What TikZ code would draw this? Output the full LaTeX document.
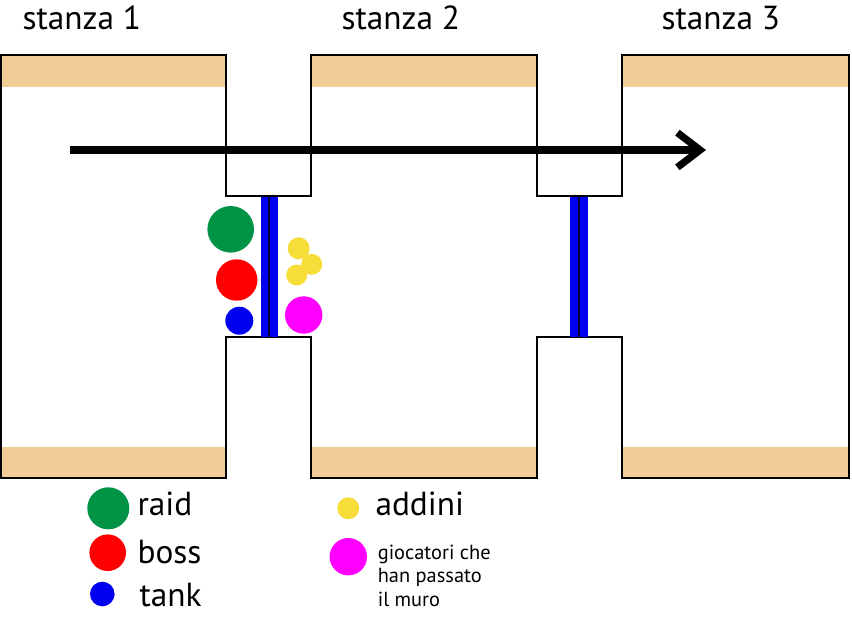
\documentclass[tikz,border=0pt]{standalone}
\usepackage{fontspec}
\setmainfont{PT Sans}
\usetikzlibrary{arrows.meta}

\definecolor{sabbia}{RGB}{240,204,151}
\definecolor{verde}{RGB}{0,146,69}
\definecolor{giallo}{RGB}{246,221,56}
\definecolor{rosso}{RGB}{255,0,0}
\definecolor{bluscuro}{RGB}{0,0,240}
\definecolor{fucsia}{RGB}{255,0,255}

\tikzset{every picture/.style={line width=0.75pt}}
\tikzset{
  titolo/.style={anchor=base west, inner sep=0pt, font=\fontsize{25}{30}\selectfont},
  voce/.style={anchor=base west, inner sep=0pt, font=\fontsize{25}{30}\selectfont},
  nota/.style={anchor=north west, inner sep=0pt, align=left, font=\fontsize{15.3}{17.6}\selectfont},
  banda/.style={fill=sabbia, draw=none},
  pareti/.style={draw=black, line width=0.8pt},
}

\begin{document}
\begin{tikzpicture}[x=0.75pt,y=0.75pt,yscale=-1,xscale=1]
\useasboundingbox (0,0) rectangle (852,622);

%Shape: Rectangle [bande stanze]
\fill[banda] (1,55) rectangle (226,87);
\fill[banda] (311,55) rectangle (537,87);
\fill[banda] (622,55) rectangle (849,87);
\fill[banda] (1,447) rectangle (226,478);
\fill[banda] (311,447) rectangle (537,478);
\fill[banda] (622,447) rectangle (849,478);

%Shape: Polygon [pianta]
\draw[pareti] (1,55) -- (226,55) -- (226,196) -- (311,196) -- (311,55) -- (537,55) -- (537,196) -- (622,196) -- (622,55) -- (849,55) -- (849,478) -- (622,478) -- (622,337) -- (537,337) -- (537,478) -- (311,478) -- (311,337) -- (226,337) -- (226,478) -- (1,478) -- cycle ;

%Shape: Rectangle [muro 1]
\fill[bluscuro] (261,197) rectangle (278,337);
\draw[black!80!blue, line width=1pt] (269,197) -- (269,337);
%Shape: Rectangle [muro 2]
\fill[bluscuro] (570,197) rectangle (588,337);
\draw[black!80!blue, line width=1pt] (579,197) -- (579,337);

%Shape: Circle [gruppo]
\fill[verde] (230.7,229.3) circle (23.3);
\fill[rosso] (236.7,280) circle (20.7);
\fill[bluscuro] (239.3,320.7) circle (14);
\fill[giallo] (298.7,248.3) circle (11);
\fill[giallo] (311.7,264.3) circle (10.5);
\fill[giallo] (296.7,275) circle (10.5);
\fill[fucsia] (303.7,315) circle (18.7);

%Straight Lines [percorso]
\coordinate (inizio) at (70,150);
\coordinate (fine) at (706,150);
\draw[line width=5.4pt, -{Straight Barb[length=17pt, width=26pt]}] (inizio) -- (fine);

% Text Node
\node[titolo] (s1) at (22,29) {stanza 1};
% Text Node
\node[titolo] (s2) at (341,29) {stanza 2};
% Text Node
\node[titolo] (s3) at (661,29) {stanza 3};

%Shape: Circle [legenda]
\fill[verde] (108.3,508.3) circle (21);
\fill[rosso] (107.7,552.7) circle (18.3);
\fill[bluscuro] (102.3,594) circle (12.3);
\fill[giallo] (348.3,508.3) circle (11);
\fill[fucsia] (348.3,556.7) circle (18.7);

% Text Node
\node[voce] (raid) at (137,515) {raid};
% Text Node
\node[voce] (boss) at (137,563) {boss};
% Text Node
\node[voce] (tank) at (139,606.7) {tank};
% Text Node
\node[voce] (addini) at (375,515) {addini};
% Text Node
\node[nota] (giocatori) at (377.3,544.5) {giocatori che\\han passato\\il muro};

\end{tikzpicture}
\end{document}
